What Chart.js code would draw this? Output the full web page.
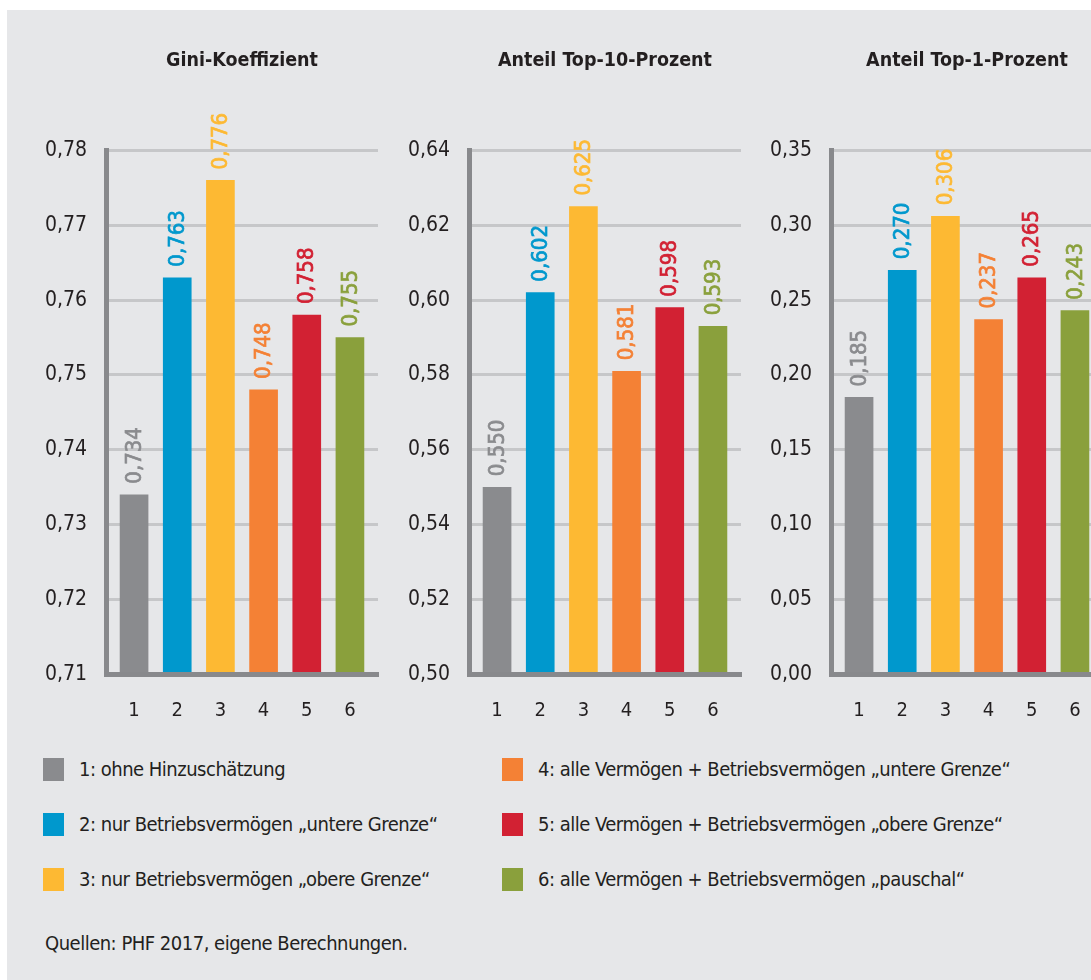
<!DOCTYPE html>
<html lang="de">
<head>
  <meta charset="UTF-8" />
  <title>Ungleichheitsmaße mit und ohne Hinzuschätzung</title>
  <script src="https://cdn.jsdelivr.net/npm/chart.js"></script>
  <style>
    html, body {
      margin: 0;
      padding: 0;
      width: 1091px;
      height: 980px;
      overflow: hidden;
      background: #ffffff;
      font-family: "Liberation Sans Narrow", "DejaVu Sans Condensed", sans-serif;
      color: #231f20;
    }

    .panel {
      position: absolute;
      left: 7px;
      top: 10px;
      width: 1100px;
      height: 980px;
      background: #e6e7e9;
    }

    canvas {
      position: absolute;
      top: 10px;
    }

    .legend {
      position: absolute;
      left: 43px;
      top: 757px;
      display: grid;
      grid-template-columns: 459px auto;
      grid-auto-flow: column;
      grid-template-rows: repeat(3, 55px);
    }

    .legend .item {
      display: flex;
      align-items: center;
      height: 24px;
      font-size: 20px;
      letter-spacing: -0.5px;
      white-space: nowrap;
    }

    .legend .swatch {
      width: 21px;
      height: 23px;
      margin-right: 15px;
      flex: none;
    }

    .source {
      position: absolute;
      left: 45px;
      top: 931px;
      font-size: 20px;
      letter-spacing: -0.5px;
    }
  </style>
</head>
<body>
  <div class="panel"></div>
  <canvas id="chart0" width="376" height="720" style="left:10px"></canvas>
  <canvas id="chart1" width="376" height="720" style="left:372.5px"></canvas>
  <canvas id="chart2" width="376" height="720" style="left:735px"></canvas>
  <div class="legend" id="legend"></div>
  <div class="source">Quellen: PHF 2017, eigene Berechnungen.</div>

  <script>
    const categories = [1, 2, 3, 4, 5, 6];
    const barColors = ['#8a8b8e', '#0098cd', '#fdb933', '#f48135', '#d22133', '#8aa03c'];
    const legendLabels = [
      '1: ohne Hinzuschätzung',
      '2: nur Betriebsvermögen „untere Grenze“',
      '3: nur Betriebsvermögen „obere Grenze“',
      '4: alle Vermögen + Betriebsvermögen „untere Grenze“',
      '5: alle Vermögen + Betriebsvermögen „obere Grenze“',
      '6: alle Vermögen + Betriebsvermögen „pauschal“'
    ];

    const giniValues = [0.734, 0.763, 0.776, 0.748, 0.758, 0.755];
    const top10Values = [0.550, 0.602, 0.625, 0.581, 0.598, 0.593];
    const top1Values = [0.185, 0.270, 0.306, 0.237, 0.265, 0.243];

    const giniTicks = [0.71, 0.72, 0.73, 0.74, 0.75, 0.76, 0.77, 0.78];
    const top10Ticks = [0.50, 0.52, 0.54, 0.56, 0.58, 0.60, 0.62, 0.64];
    const top1Ticks = [0.00, 0.05, 0.10, 0.15, 0.20, 0.25, 0.30, 0.35];

    const panelTitles = ['Gini-Koeffizient', 'Anteil Top-10-Prozent', 'Anteil Top-1-Prozent'];

    const FONT = '"Liberation Sans Narrow", "DejaVu Sans Condensed", sans-serif';
    const TEXT = '#231f20';
    const AXIS = '#88898c';
    const GRID = '#c6c7c9';

    function fmt(v, digits) {
      return v.toFixed(digits).replace('.', ',');
    }

    // rotated value labels above each bar, in the bar's colour
    const valueLabels = {
      id: 'valueLabels',
      afterDatasetsDraw(chart) {
        const ctx = chart.ctx;
        const meta = chart.getDatasetMeta(0);
        const data = chart.data.datasets[0].data;
        ctx.save();
        ctx.font = '22px ' + FONT;
        ctx.textAlign = 'left';
        ctx.textBaseline = 'middle';
        ctx.lineWidth = 0.7;
        meta.data.forEach((bar, i) => {
          ctx.save();
          ctx.translate(bar.x + 1, bar.y - 11);
          ctx.rotate(-Math.PI / 2);
          ctx.fillStyle = barColors[i];
          ctx.strokeStyle = barColors[i];
          ctx.fillText(fmt(data[i].y, 3), 0, 0);
          ctx.strokeText(fmt(data[i].y, 3), 0, 0);
          ctx.restore();
        });
        ctx.restore();
      }
    };

    function drawPanel(id, title, values, ticks) {
      new Chart(document.getElementById(id), {
        type: 'bar',
        data: {
          datasets: [{
            data: categories.map((c, i) => ({ x: c, y: values[i] })),
            backgroundColor: barColors,
            barThickness: 28
          }]
        },
        options: {
          responsive: false,
          animation: false,
          events: [],
          layout: { padding: { left: 0, right: 8, top: 0, bottom: 5.7 } },
          plugins: {
            legend: { display: false },
            tooltip: { enabled: false },
            title: {
              display: true,
              text: title,
              fullSize: false,
              color: TEXT,
              font: { family: FONT, size: 19.5, weight: 'bold' },
              padding: { top: 39.5, bottom: 77.6 }
            }
          },
          scales: {
            x: {
              type: 'linear',
              offset: false,
              min: 0.35,
              max: 6.65,
              afterBuildTicks: s => { s.ticks = categories.map(v => ({ value: v })); },
              afterFit: s => { s.height = 50; },
              grid: { display: false, offset: false },
              border: { color: AXIS, width: 5, z: 1 },
              ticks: {
                padding: 16,
                color: TEXT,
                autoSkip: false,
                maxRotation: 0,
                font: { family: FONT, size: 20 },
                callback: v => String(v)
              }
            },
            y: {
              min: ticks[0],
              max: ticks[ticks.length - 1],
              afterBuildTicks: s => { s.ticks = ticks.map(v => ({ value: v })); },
              afterFit: s => { s.width = 96; },
              grid: { color: GRID, lineWidth: 3, drawTicks: false },
              border: { color: AXIS, width: 5, z: 1 },
              ticks: {
                padding: 19,
                color: TEXT,
                font: { family: FONT, size: 21 },
                callback: v => fmt(v, 2)
              }
            }
          }
        },
        plugins: [valueLabels]
      });
    }

    drawPanel('chart0', panelTitles[0], giniValues, giniTicks);
    drawPanel('chart1', panelTitles[1], top10Values, top10Ticks);
    drawPanel('chart2', panelTitles[2], top1Values, top1Ticks);

    const legend = document.getElementById('legend');
    legendLabels.forEach((label, i) => {
      const item = document.createElement('div');
      item.className = 'item';
      const sw = document.createElement('span');
      sw.className = 'swatch';
      sw.style.background = barColors[i];
      item.appendChild(sw);
      item.appendChild(document.createTextNode(label));
      legend.appendChild(item);
    });
  </script>
</body>
</html>
